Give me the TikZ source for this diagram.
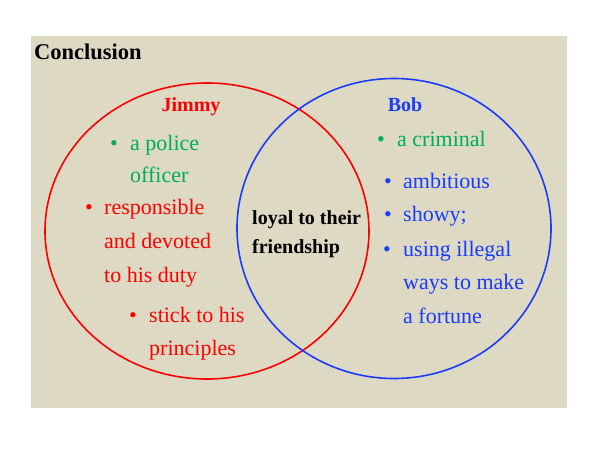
\documentclass[tikz,border=0pt]{standalone}
\usepackage{fontspec}
\setmainfont{Liberation Serif}
\definecolor{bgbeige}{HTML}{DDD9C3}
\definecolor{vred}{HTML}{FF0000}
\definecolor{vblue}{HTML}{1A3CFF}
\definecolor{vgreen}{HTML}{00B050}
\tikzset{
  txt/.style={inner sep=0pt, anchor=base west, font=\fontsize{22}{26}\selectfont},
  bul/.style={inner sep=0pt, anchor=base, font=\fontsize{22}{26}\selectfont},
  head/.style={inner sep=0pt, anchor=base, font=\fontsize{20}{24}\selectfont\bfseries},
  ring/.style={line width=1.6pt}
}
\begin{document}
\begin{tikzpicture}[x=1pt,y=-1pt]
\useasboundingbox (0,0) rectangle (600,450);
\fill[bgbeige] (31,36) rectangle (567,408);
\node[inner sep=0pt, anchor=base west, font=\fontsize{22.5}{26}\selectfont\bfseries] (concl) at (34,59) {Conclusion};
% circles
\draw[ring, vred] (207,231) ellipse [x radius=162, y radius=148];
\draw[ring, vblue] (394,228.5) ellipse [x radius=157, y radius=150];
% headings
\node[head, text=vred] (jimmy) at (191,111) {Jimmy};
\node[head, text=vblue] (bob) at (405,111) {Bob};
% Jimmy items
\node[bul, text=vgreen] (jb1) at (114,150) {•};
\node[txt, text=vgreen] (j1a) at (130,150) {a police};
\node[txt, text=vgreen] (j1b) at (130,182) {officer};
\node[bul, text=vred] (jb2) at (89,214) {•};
\node[txt, text=vred] (j2a) at (104,214) {responsible};
\node[txt, text=vred] (j2b) at (104,248) {and devoted};
\node[txt, text=vred] (j2c) at (104,282) {to his duty};
\node[bul, text=vred] (jb3) at (133,322) {•};
\node[txt, text=vred] (j3a) at (149,322) {stick to his};
\node[txt, text=vred] (j3b) at (149,355) {principles};
% common
\node[inner sep=0pt, anchor=base west, font=\fontsize{20}{24}\selectfont\bfseries] (c1) at (252,224) {loyal to their};
\node[inner sep=0pt, anchor=base west, font=\fontsize{20}{24}\selectfont\bfseries] (c2) at (252,253) {friendship};
% Bob items
\node[bul, text=vgreen] (bb1) at (381,146) {•};
\node[txt, text=vgreen] (b1) at (397,146) {a criminal};
\node[bul, text=vblue] (bb2) at (388,188) {•};
\node[txt, text=vblue] (b2) at (403,188) {ambitious};
\node[bul, text=vblue] (bb3) at (388,221) {•};
\node[txt, text=vblue] (b3) at (403,221) {showy;};
\node[bul, text=vblue] (bb4) at (387,256) {•};
\node[txt, text=vblue] (b4a) at (403,256) {using illegal};
\node[txt, text=vblue] (b4b) at (403,289) {ways to make};
\node[txt, text=vblue] (b4c) at (403,323) {a fortune};
\end{tikzpicture}
\end{document}
